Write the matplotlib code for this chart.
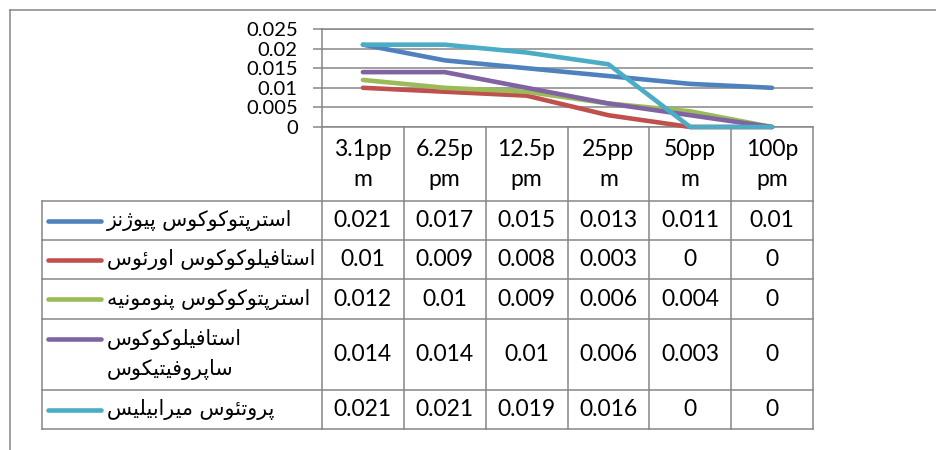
import matplotlib.pyplot as plt
import numpy as np
from matplotlib.ticker import FuncFormatter

categories = ["3.1pp\nm", "6.25p\npm", "12.5p\npm", "25pp\nm", "50pp\nm", "100p\npm"]
series_names = [
    "استرپتوکوکوس پیوژنز",
    "استافیلوکوکوس اورئوس",
    "استرپتوکوکوس پنومونیه",
    "استافیلوکوکوس\nساپروفیتیکوس",
    "پروتئوس میرابیلیس",
]
s_pyogenes = [0.021, 0.017, 0.015, 0.013, 0.011, 0.01]
s_aureus = [0.01, 0.009, 0.008, 0.003, 0, 0]
s_pneumoniae = [0.012, 0.01, 0.009, 0.006, 0.004, 0]
s_saprophyticus = [0.014, 0.014, 0.01, 0.006, 0.003, 0]
s_mirabilis = [0.021, 0.021, 0.019, 0.016, 0, 0]
yticks = [0, 0.005, 0.01, 0.015, 0.02, 0.025]

series = [s_pyogenes, s_aureus, s_pneumoniae, s_saprophyticus, s_mirabilis]
colors = ["#4F81BD", "#C0504D", "#9BBB59", "#8064A2", "#4BACC6"]

# matplotlib does no arabic shaping, so pick presentation forms by hand
# isolated, final, initial, medial (None -> letter never joins the next one)
FORMS = {
    "ا": ("\uFE8D", "\uFE8E", None, None),
    "ب": ("\uFE8F", "\uFE90", "\uFE91", "\uFE92"),
    "پ": ("\uFB56", "\uFB57", "\uFB58", "\uFB59"),
    "ت": ("\uFE95", "\uFE96", "\uFE97", "\uFE98"),
    "ر": ("\uFEAD", "\uFEAE", None, None),
    "ز": ("\uFEAF", "\uFEB0", None, None),
    "ژ": ("\uFB8A", "\uFB8B", None, None),
    "س": ("\uFEB1", "\uFEB2", "\uFEB3", "\uFEB4"),
    "ف": ("\uFED1", "\uFED2", "\uFED3", "\uFED4"),
    "ک": ("\uFB8E", "\uFB8F", "\uFB90", "\uFB91"),
    "ل": ("\uFEDD", "\uFEDE", "\uFEDF", "\uFEE0"),
    "م": ("\uFEE1", "\uFEE2", "\uFEE3", "\uFEE4"),
    "ن": ("\uFEE5", "\uFEE6", "\uFEE7", "\uFEE8"),
    "و": ("\uFEED", "\uFEEE", None, None),
    "ه": ("\uFEE9", "\uFEEA", "\uFEEB", "\uFEEC"),
    "ی": ("\uFBFC", "\uFBFD", "\uFBFE", "\uFBFF"),
    "ئ": ("\uFE89", "\uFE8A", "\uFE8B", "\uFE8C"),
}


def shape(line):
    line = line.replace("ك", "ک").replace("ي", "ی")
    out = []
    for i, ch in enumerate(line):
        if ch not in FORMS:
            out.append(ch)
            continue
        prev = line[i - 1] if i > 0 else ""
        nxt = line[i + 1] if i + 1 < len(line) else ""
        joins_prev = prev in FORMS and FORMS[prev][2] is not None
        joins_next = FORMS[ch][2] is not None and nxt in FORMS
        iso, fin, ini, med = FORMS[ch]
        if joins_prev and joins_next:
            out.append(med)
        elif joins_prev:
            out.append(fin)
        elif joins_next:
            out.append(ini)
        else:
            out.append(iso)
    return "".join(reversed(out))


W, H = 936, 450
GRID = "#868686"
NUMFONT = ["Lato", "DejaVu Sans"]

# layout in pixels
plot_l, plot_r, plot_t, plot_b = 322, 813, 29, 127
tab_l = 42
row_edges = [201, 240, 279, 319, 390, 429]

fig = plt.figure(figsize=(W / 100, H / 100), dpi=100)

bg = fig.add_axes([0, 0, 1, 1])
bg.set_xlim(0, W)
bg.set_ylim(H, 0)
bg.axis("off")

# chart frame (only top / left are inside the crop)
bg.plot([10, W], [10, 10], color=GRID, lw=1.1)
bg.plot([10, 10], [10, H], color=GRID, lw=1.1)

ax = fig.add_axes([plot_l / W, (H - plot_b) / H, (plot_r - plot_l) / W, (plot_b - plot_t) / H])
x = np.arange(len(categories))
for vals, c in zip(series, colors):
    ax.plot(x, vals, color=c, lw=3.3, solid_joinstyle="round", solid_capstyle="round", clip_on=False, zorder=3)

ax.set_xlim(-0.5, len(categories) - 0.5)
ax.set_ylim(yticks[0], yticks[-1])
ax.set_yticks(yticks)
ax.yaxis.set_major_formatter(FuncFormatter(lambda v, p: f"{v:g}"))
ax.set_xticks([])
ax.tick_params(axis="y", length=6.5, width=1.1, color=GRID, pad=11, labelsize=14.5)
for lab in ax.get_yticklabels():
    lab.set_family(NUMFONT)
ax.yaxis.grid(True, color=GRID, lw=1.1)
ax.set_axisbelow(True)
for side in ["top", "bottom", "left"]:
    ax.spines[side].set_color(GRID)
    ax.spines[side].set_linewidth(1.1)
ax.spines["right"].set_visible(False)
ax.patch.set_alpha(0)

# data table under the plot
col_edges = np.linspace(plot_l, plot_r, len(categories) + 1)
col_mid = (col_edges[:-1] + col_edges[1:]) / 2
for xe in col_edges:
    bg.plot([xe, xe], [plot_b, row_edges[-1]], color=GRID, lw=1.1)
bg.plot([tab_l, tab_l], [row_edges[0], row_edges[-1]], color=GRID, lw=1.1)
for ye in row_edges:
    bg.plot([tab_l, plot_r], [ye, ye], color=GRID, lw=1.1)

for xm, cat in zip(col_mid, categories):
    for k, part in enumerate(cat.split("\n")):
        bg.text(xm, 150 + 30 * k, part, ha="center", va="center", fontsize=16.5, family=NUMFONT)

for r, (name, vals, c) in enumerate(zip(series_names, series, colors)):
    top, bot = row_edges[r], row_edges[r + 1]
    mid = (top + bot) / 2
    lines = name.split("\n")
    first_y = mid if len(lines) == 1 else top + 20
    bg.plot([48, 101], [first_y, first_y], color=c, lw=3.3, solid_capstyle="round")
    for k, part in enumerate(lines):
        bg.text(107, first_y + 31 * k, shape(part), ha="left", va="center", fontsize=14.8, family=["DejaVu Sans"])
    for xm, v in zip(col_mid, vals):
        bg.text(xm, mid, f"{v:g}", ha="center", va="center", fontsize=16.5, family=NUMFONT)

fig.savefig("out.png", dpi=100)
